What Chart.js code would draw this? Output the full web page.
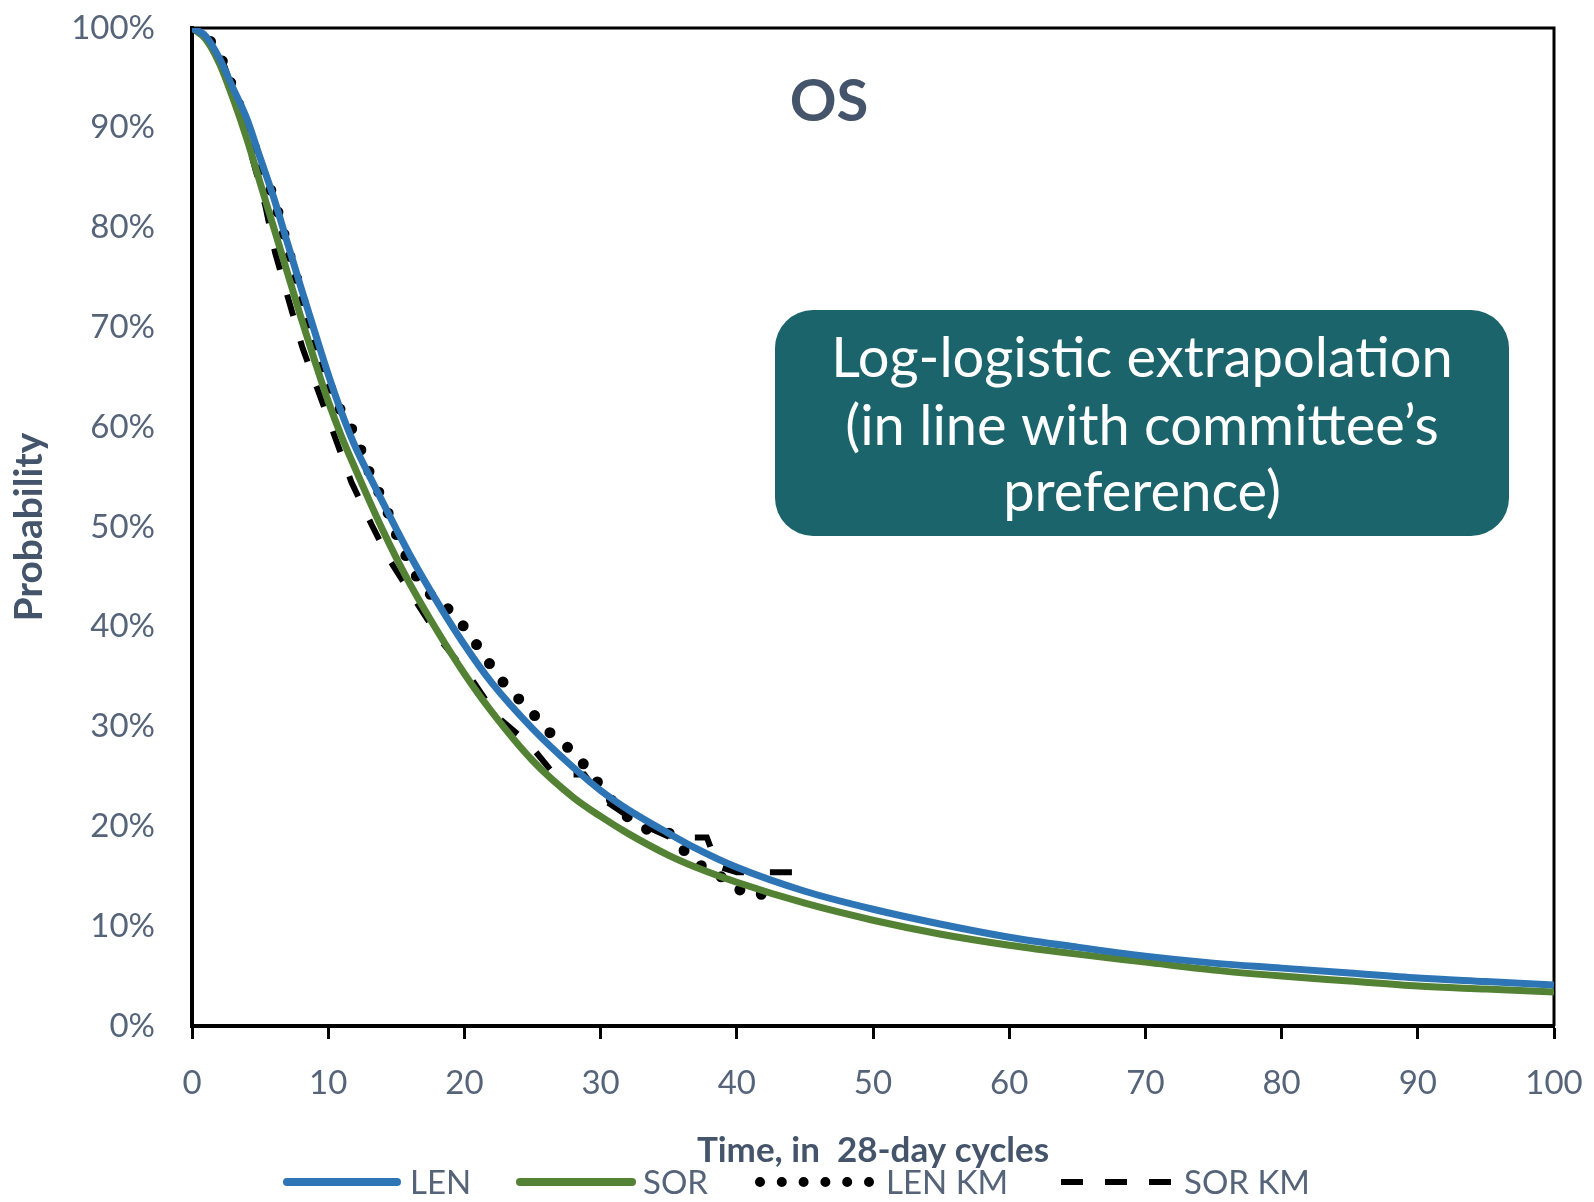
<!DOCTYPE html>
<html>
<head>
<meta charset="utf-8">
<script src="https://cdn.jsdelivr.net/npm/chart.js@4"></script>
<style>
  html, body { margin: 0; padding: 0; background: #fff; }
  #wrap { width: 1594px; height: 1202px; }
</style>
</head>
<body>
<div id="wrap"><canvas id="os"></canvas></div>
<script>
// fitted log-logistic curves, % alive by 28-day cycle
var fitTime = [0,1,2,3,4,5,6,7,8,9,10,11,12,13,14,15,16,18,20,22,25,28,30,32,35,37,40,45,50,55,60,65,70,75,80,85,90,95,100];
var lenFit = [100,99.2,97,94,91,87,83,78.5,74,69.6,65.3,61.4,58,55.2,52.5,49.8,47.2,42.5,38.2,34.4,29.8,25.9,23.6,21.7,19.3,17.8,15.9,13.5,11.7,10.2,8.9,7.9,7.0,6.3,5.8,5.3,4.8,4.45,4.1];
var sorFit = [100,98.9,96.5,93,89,84.5,80,75.5,71,66.7,62.6,59,55.8,52.7,49.7,46.9,44.3,39.6,35.3,31.5,26.6,22.9,21.0,19.3,17.1,15.9,14.4,12.3,10.6,9.2,8.1,7.2,6.4,5.6,5.0,4.5,4.0,3.7,3.4];

// Kaplan-Meier traces
var lenKmTime = [0,1.5,2.3,3.1,3.8,4.5,5.1,5.9,6.5,7.0,7.6,8.1,8.6,9.2,9.9,10.7,11.7,12.5,13.2,14.1,14.8,15.6,16.5,17.7,19.2,20.4,21.5,22.6,23.9,25.3,26.6,28.0,29.3,30.5,31.7,33.4,35.1,36.3,37.8,39.4,40.6,42.4];
var lenKmSurv = [100,98.5,96.5,93.6,91.0,88.4,85.8,83.4,80.7,78.0,75.3,72.9,70.0,67.3,64.8,62.2,59.9,57.4,54.8,52.5,49.9,47.4,45.0,42.9,41.4,39.2,37.0,34.8,32.9,30.9,28.9,27.5,25.3,23.1,21.2,19.7,19.3,17.3,15.6,14.6,13.2,13.2];
var sorKmTime = [0,1,2.4,3.5,4.4,5.4,6.1,7.0,8.1,9.3,10.5,11.7,13.2,14.5,16.5,18.4,20.4,22.4,24.8,26.6,28.8,30.1,32.7,35.1,37.8,38.6,40.0,44.1];
var sorKmSurv = [100,99,96.1,91.8,87.1,82.1,77.5,73.2,68.0,63.5,59.0,54.5,50.2,46.7,42.4,38.4,35.0,31.0,28.2,25.2,25.2,22.8,20.4,18.9,18.9,16.0,15.4,15.4];

var xTicks = [0,10,20,30,40,50,60,70,80,90,100];

var seriesNames = ["LEN", "SOR", "LEN KM", "SOR KM"];
var seriesColors = ["#2E75B6", "#548235", "#000000", "#000000"];

var textColor = "#44546A";
var tickColor = "#56647A";

function pts(xs, ys) {
  return xs.map(function (x, i) { return {x: x, y: ys[i]}; });
}

// frame, title, note box and legend
var extras = {
  id: "extras",
  beforeDatasetsDraw: function (chart) {
    var a = chart.chartArea, ctx = chart.ctx;
    ctx.save();
    ctx.strokeStyle = "#000";
    ctx.lineWidth = 3;
    ctx.beginPath();
    ctx.moveTo(a.left, a.top);
    ctx.lineTo(a.right, a.top);
    ctx.lineTo(a.right, a.bottom);
    ctx.stroke();
    ctx.restore();
  },
  afterDraw: function (chart) {
    var ctx = chart.ctx;
    ctx.save();
    ctx.fillStyle = textColor;
    ctx.font = "bold 58px Lato";
    ctx.textAlign = "center";
    ctx.textBaseline = "middle";
    ctx.fillText("OS", 829, 102);

    // note box
    var bx = 775, by = 310, bw = 734, bh = 226, r = 38;
    ctx.fillStyle = "#1B646C";
    ctx.beginPath();
    ctx.roundRect(bx, by, bw, bh, r);
    ctx.fill();
    ctx.fillStyle = "#fff";
    ctx.font = "56px Lato";
    ctx.fillText("Log-logistic extrapolation", bx + bw / 2, 359);
    ctx.fillText("(in line with committee\u2019s", bx + bw / 2, 427);
    ctx.fillText("preference)", bx + bw / 2, 493);

    // legend
    var ly = 1182;
    var items = [[287, 397, 410], [520, 632, 643], [760, 869, 886], [1061, 1171, 1184]];
    ctx.font = "33px Lato";
    ctx.textAlign = "left";
    items.forEach(function (it, i) {
      ctx.strokeStyle = seriesColors[i];
      if (i < 2) { ctx.lineWidth = 8; ctx.lineCap = "round"; ctx.setLineDash([]); }
      else if (i === 2) { ctx.lineWidth = 10; ctx.lineCap = "round"; ctx.setLineDash([0, 21.8]); }
      else { ctx.lineWidth = 6; ctx.lineCap = "butt"; ctx.setLineDash([22, 22]); }
      ctx.beginPath();
      ctx.moveTo(it[0], ly);
      ctx.lineTo(it[1], ly);
      ctx.stroke();
      ctx.fillStyle = tickColor;
      ctx.fillText(seriesNames[i], it[2], ly + 1);
    });
    ctx.restore();
  }
};

new Chart(document.getElementById("os"), {
  type: "line",
  data: {
    datasets: [
      {label: seriesNames[0], data: pts(fitTime, lenFit), borderColor: seriesColors[0], borderWidth: 7, pointRadius: 0, cubicInterpolationMode: "monotone"},
      {label: seriesNames[1], data: pts(fitTime, sorFit), borderColor: seriesColors[1], borderWidth: 7, pointRadius: 0, cubicInterpolationMode: "monotone"},
      {label: seriesNames[2], data: pts(lenKmTime, lenKmSurv), borderColor: seriesColors[2], borderWidth: 11, borderDash: [0, 23], borderCapStyle: "round", pointRadius: 0, tension: 0},
      {label: seriesNames[3], data: pts(sorKmTime, sorKmSurv), borderColor: seriesColors[3], borderWidth: 6, borderDash: [22, 26], pointRadius: 0, tension: 0}
    ]
  },
  options: {
    responsive: true,
    maintainAspectRatio: false,
    animation: false,
    layout: { padding: { left: 0, right: 40, top: 28, bottom: 0 } },
    plugins: {
      legend: { display: false },
      tooltip: { enabled: false }
    },
    scales: {
      x: {
        type: "linear",
        min: 0,
        max: 100,
        afterBuildTicks: function (scale) {
          scale.ticks = xTicks.map(function (v) { return {value: v}; });
        },
        afterFit: function (scale) {
          scale.height = 176;
          scale.paddingLeft = 0;
          scale.paddingRight = 0;
        },
        grid: { drawOnChartArea: false, drawTicks: true, tickLength: 13, tickWidth: 3, tickColor: "#000" },
        border: { display: true, color: "#000", width: 4 },
        ticks: { color: tickColor, font: { family: "Lato", size: 33 }, padding: 25, maxRotation: 0 },
        title: {
          display: true,
          text: "Time, in  28-day cycles",
          color: textColor,
          font: { family: "Lato", size: 35, weight: "bold" },
          padding: { top: 0, bottom: 30 }
        }
      },
      y: {
        min: 0,
        max: 100,
        ticks: {
          stepSize: 10,
          color: tickColor,
          font: { family: "Lato", size: 33 },
          padding: 37,
          callback: function (v) { return v + "%"; }
        },
        afterFit: function (scale) {
          scale.width = 192;
          scale.paddingTop = 0;
          scale.paddingBottom = 0;
        },
        grid: { display: false, drawTicks: false },
        border: { display: true, color: "#000", width: 4 },
        title: {
          display: true,
          text: "Probability",
          color: textColor,
          font: { family: "Lato", size: 39, weight: "bold" },
          padding: { top: 6, bottom: 0 }
        }
      }
    }
  },
  plugins: [extras]
});
</script>
</body>
</html>
